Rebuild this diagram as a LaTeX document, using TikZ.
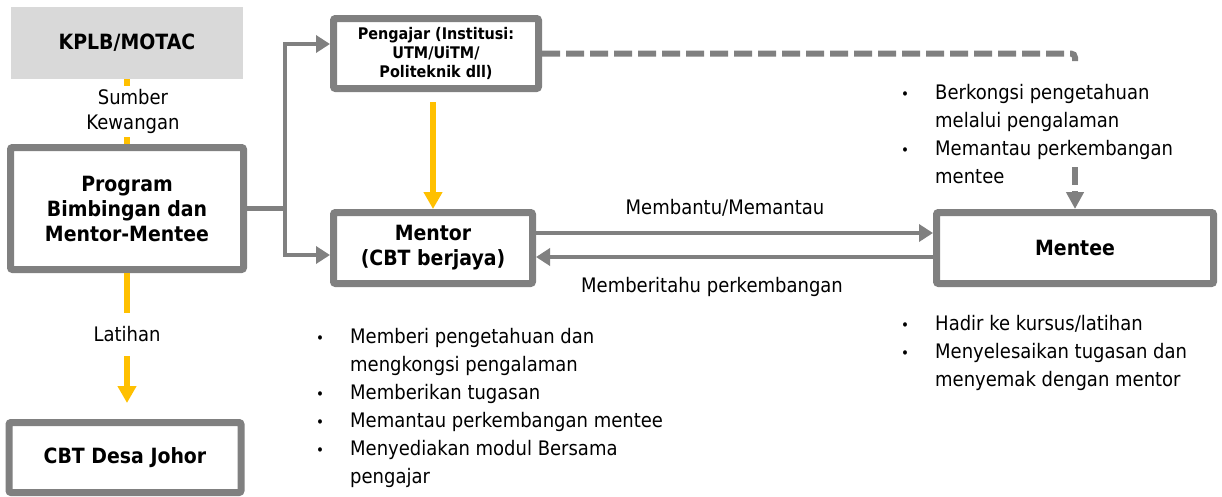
\documentclass[tikz,border=0pt]{standalone}
\usepackage{fontspec}
\setmainfont{DejaVu Sans}[FakeStretch=0.9]
\usepackage{tikz}
\usetikzlibrary{arrows.meta, positioning}
\definecolor{linegray}{HTML}{808080}
\definecolor{fillgray}{HTML}{D9D9D9}
\definecolor{lineyellow}{HTML}{FFC000}
\newcommand{\bul}{\makebox[34pt][l]{\fontsize{15}{15}\selectfont\textbullet}}
\newcommand{\nobul}{\makebox[34pt]{}}
\tikzstyle{source} = [rectangle, fill=fillgray, minimum width=232pt, minimum height=72pt, inner sep=0pt, font=\fontsize{21}{25}\selectfont\bfseries]
\tikzstyle{box} = [rectangle, draw=linegray, line width=7pt, rounded corners=2pt, fill=white, align=center, inner sep=0pt, font=\fontsize{21}{25}\selectfont\bfseries]
\tikzstyle{linetext} = [fill=white, align=center, inner xsep=2pt, inner ysep=3pt, font=\fontsize{20}{25}\selectfont]
\tikzstyle{arrowtext} = [font=\fontsize{20}{25}\selectfont]
\tikzstyle{bullets} = [anchor=north west, align=left, inner sep=0pt, font=\fontsize{20}{28}\selectfont]
\tikzstyle{grayline} = [draw=linegray, line width=4.5pt]
\tikzstyle{grayarrow} = [grayline, -{Triangle[length=14pt, width=17pt]}]
\tikzstyle{dashline} = [draw=linegray, line width=6pt, dash pattern=on 18pt off 6pt]
\tikzstyle{yellowline} = [draw=lineyellow, line width=6pt]
\tikzstyle{yellowarrow} = [yellowline, -{Triangle[length=17pt, width=18pt]}]

\begin{document}
\begin{tikzpicture}[x=1pt, y=1pt, node distance=100pt]
\useasboundingbox (0,0) rectangle (1222,-496);
\node (kplb) [source] at (127,-43) {KPLB/MOTAC};
\node (program) [box, minimum width=233pt, minimum height=122pt, below of=kplb, yshift=-65.5pt] {Program\\Bimbingan dan\\Mentor-Mentee};
\node (cbt) [box, minimum width=232pt, minimum height=70pt, below of=program, xshift=-2pt, yshift=-149pt] {CBT Desa Johor};
\node (pengajar) [box, minimum width=205pt, minimum height=70pt, right of=kplb, xshift=209pt, yshift=-10.5pt, font=\fontsize{16}{19}\selectfont\bfseries] {Pengajar (Institusi:\\UTM/UiTM/\\Politeknik dll)};
\node (mentor) [box, minimum width=199pt, minimum height=71pt, below of=pengajar, xshift=-3pt, yshift=-94.5pt] {Mentor\\(CBT berjaya)};
\node (mentee) [box, minimum width=277pt, minimum height=71pt, right of=mentor, xshift=542pt] {Mentee};

\node (mentorlist) [bullets] at (316,-328) {\bul Memberi pengetahuan dan\\ \nobul mengkongsi pengalaman\\ \bul Memberikan tugasan\\ \bul Memantau perkembangan mentee\\ \bul Menyediakan modul Bersama\\ \nobul pengajar};
\node (menteetop) [bullets] at (901,-84) {\bul Berkongsi pengetahuan\\ \nobul melalui pengalaman\\ \bul Memantau perkembangan\\ \nobul mentee};
\node (menteebottom) [bullets] at (901,-315) {\bul Hadir ke kursus/latihan\\ \bul Menyelesaikan tugasan dan\\ \nobul menyemak dengan mentor};

\coordinate (split) at (285,-208.5);
\coordinate (dashturn) at (1075,-61);
\coordinate (dashback) at (1075,-167);

\draw[yellowline] (kplb) -- node[linetext, xshift=6pt] {Sumber\\Kewangan} (program);
\draw[yellowarrow, shorten >=16pt] (program) -- node[linetext, pos=0.42, inner ysep=14pt] {Latihan} (program |- cbt.north);
\draw[yellowarrow, shorten <=10pt] (mentor.north |- pengajar.south) -- (mentor);
\draw[grayline] (program) -- (split);
\draw[grayarrow] (split) |- ([yshift=9.5pt]pengajar.west);
\draw[grayarrow] (split) |- ([yshift=-7pt]mentor.west);
\draw[grayarrow] ([yshift=15pt]mentor.east) -- node[arrowtext, above=11pt, xshift=-9.5pt] {Membantu/Memantau} ([yshift=15pt]mentee.west);
\draw[grayarrow] ([yshift=-9pt]mentee.west) -- node[arrowtext, below=14.5pt, xshift=-22.5pt] {Memberitahu perkembangan} ([yshift=-9pt]mentor.east);
\draw[dashline, rounded corners=4pt] (pengajar) -| (dashturn);
\draw[dashline, -{Triangle[length=17pt, width=17pt]}] (dashback) -- (mentee);
\end{tikzpicture}
\end{document}
